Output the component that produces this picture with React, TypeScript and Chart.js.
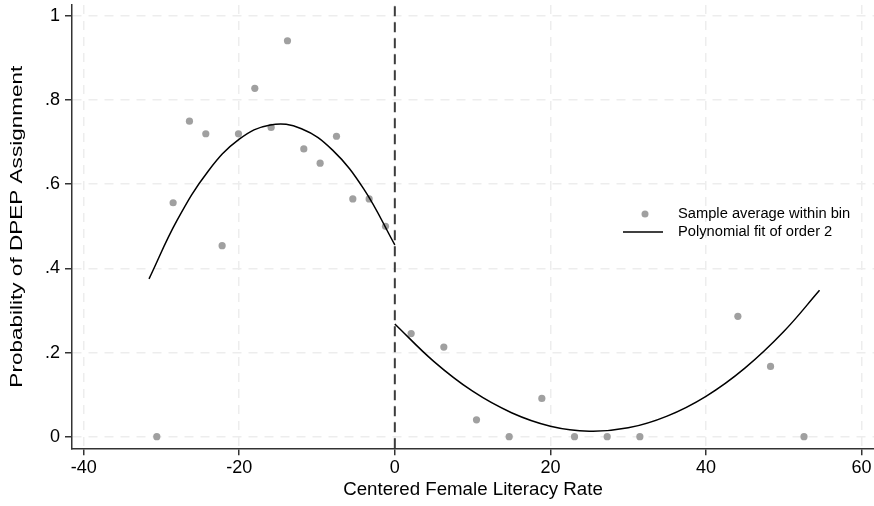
import React, { useEffect, useRef } from "react";
import { Chart, registerables } from "chart.js";

Chart.register(...registerables);

// Binned sample averages (left of cutoff)
const binLeftX = [-30.6, -28.5, -26.4, -24.3, -22.2, -20.1, -18.0, -15.9, -13.8, -11.7, -9.6, -7.5, -5.4, -3.3, -1.2];
const binLeftY = [0, 0.556, 0.75, 0.72, 0.454, 0.72, 0.828, 0.735, 0.941, 0.684, 0.65, 0.714, 0.565, 0.565, 0.5];
// Binned sample averages (right of cutoff)
const binRightX = [2.1, 6.3, 10.5, 14.7, 18.9, 23.1, 27.3, 31.5, 44.1, 48.3, 52.6];
const binRightY = [0.245, 0.213, 0.04, 0, 0.091, 0, 0, 0, 0.286, 0.167, 0];

// Polynomial fit
const fitLeftX = [-31.6, -28, -24, -20, -16, -12, -8, -4, 0];
const fitLeftY = [0.375, 0.514, 0.631, 0.707, 0.741, 0.732, 0.681, 0.589, 0.456];
const fitRightX = [0, 5, 10, 15, 20, 25, 30, 35, 40, 45, 50, 54.6];
const fitRightY = [0.268, 0.179, 0.108, 0.057, 0.025, 0.013, 0.021, 0.049, 0.096, 0.163, 0.25, 0.348];

const cutoff = 0;
const xTicks = [-40, -20, 0, 20, 40, 60];
const yTicks = [0, 0.2, 0.4, 0.6, 0.8, 1];
const yTickLabels = ["0", ".2", ".4", ".6", ".8", "1"];
const xMin = -41.5;
const xMax = 61.6;
const yMin = -0.0276;
const yMax = 1.026;

const legendLabels = ["Sample average within bin", "Polynomial fit of order 2"];
const xTitle = "Centered Female Literacy Rate";
const yTitle = "Probability of DPEP Assignment";

const FONT = "'Liberation Sans', Arial, Helvetica, sans-serif";
const POINT_COLOR = "#a0a0a0";

const zip = (xs: number[], ys: number[]) => xs.map((x, i) => ({ x, y: ys[i] }));

const overlayPlugin = {
  id: "overlayText",
  afterDraw(chart: any) {
    const { ctx, chartArea } = chart;
    // legend inside the plot
    const baseX = chartArea.right - 251;
    const y1 = 214;
    const y2 = 232;
    ctx.save();
    ctx.fillStyle = POINT_COLOR;
    ctx.beginPath();
    ctx.arc(baseX + 22, y1, 3.5, 0, Math.PI * 2);
    ctx.fill();
    ctx.strokeStyle = "#000";
    ctx.lineWidth = 1.5;
    ctx.beginPath();
    ctx.moveTo(baseX, y2);
    ctx.lineTo(baseX + 40, y2);
    ctx.stroke();
    ctx.fillStyle = "#000";
    ctx.font = `14.7px ${FONT}`;
    ctx.textBaseline = "middle";
    ctx.textAlign = "left";
    ctx.fillText(legendLabels[0], baseX + 55, y1);
    ctx.fillText(legendLabels[1], baseX + 55, y2);
    ctx.restore();

    // y-axis title (stretched along its length as in the reference)
    ctx.save();
    ctx.font = `16.5px ${FONT}`;
    ctx.fillStyle = "#000";
    ctx.textAlign = "center";
    ctx.textBaseline = "middle";
    const w = ctx.measureText(yTitle).width;
    const sx = 322 / w;
    ctx.translate(17, (chartArea.top + chartArea.bottom) / 2);
    ctx.rotate(-Math.PI / 2);
    ctx.scale(sx, 1);
    ctx.fillText(yTitle, 0, 0);
    ctx.restore();
  },
};

export default function App() {
  const ref = useRef<HTMLCanvasElement | null>(null);

  useEffect(() => {
    document.body.style.margin = "0";
    const canvas = ref.current;
    if (!canvas) return;
    const chart = new Chart(canvas, {
      type: "scatter",
      data: {
        datasets: [
          {
            type: "scatter",
            label: legendLabels[0],
            data: [...zip(binLeftX, binLeftY), ...zip(binRightX, binRightY)],
            backgroundColor: POINT_COLOR,
            borderWidth: 0,
            pointRadius: 3.6,
            order: 1,
          },
          {
            type: "line",
            label: legendLabels[1],
            data: zip(fitLeftX, fitLeftY),
            borderColor: "#000",
            borderWidth: 1.5,
            pointRadius: 0,
            tension: 0.4,
            fill: false,
            order: 0,
          },
          {
            type: "line",
            label: "fit right",
            data: zip(fitRightX, fitRightY),
            borderColor: "#000",
            borderWidth: 1.5,
            pointRadius: 0,
            tension: 0.4,
            fill: false,
            order: 0,
          },
          {
            type: "line",
            label: "cutoff",
            data: [
              { x: cutoff, y: yMin },
              { x: cutoff, y: yMax },
            ],
            borderColor: "#3c3c3c",
            borderWidth: 2,
            borderDash: [10, 6],
            pointRadius: 0,
            fill: false,
            order: 2,
          },
        ],
      },
      options: {
        animation: false,
        responsive: false,
        maintainAspectRatio: false,
        layout: { autoPadding: false, padding: { top: 5, right: 0, left: 0, bottom: 0 } },
        plugins: {
          legend: { display: false },
          tooltip: { enabled: false },
        },
        scales: {
          x: {
            type: "linear",
            min: xMin,
            max: xMax,
            afterBuildTicks: (scale: any) => {
              scale.ticks = xTicks.map((v) => ({ value: v }));
            },
            afterFit: (scale: any) => {
              scale.height = 57.7;
              scale.paddingLeft = 0;
              scale.paddingRight = 0;
            },
            ticks: {
              color: "#000",
              font: { family: FONT, size: 18 },
              padding: 2,
              maxRotation: 0,
              autoSkip: false,
              callback: (v: any) => String(v),
            },
            grid: {
              color: "#ededed",
              lineWidth: 1.5,
              tickColor: "#333",
              tickLength: 7,
              tickWidth: 1.5,
              tickBorderDash: [],
            },
            border: { display: true, color: "#333", width: 1.5, dash: [9, 7] },
            title: {
              display: true,
              text: xTitle,
              color: "#000",
              font: { family: FONT, size: 18.7 },
              padding: { top: 0, bottom: 5.2 },
            },
          },
          y: {
            type: "linear",
            min: yMin,
            max: yMax,
            afterBuildTicks: (scale: any) => {
              scale.ticks = yTicks.map((v) => ({ value: v }));
            },
            afterFit: (scale: any) => {
              scale.width = 72;
              scale.paddingTop = 0;
              scale.paddingBottom = 0;
            },
            ticks: {
              color: "#000",
              font: { family: FONT, size: 18 },
              padding: 5,
              autoSkip: false,
              callback: (v: any) => {
                const i = yTicks.findIndex((t) => Math.abs(t - Number(v)) < 1e-9);
                return i >= 0 ? yTickLabels[i] : "";
              },
            },
            grid: {
              color: "#ededed",
              lineWidth: 1.5,
              tickColor: "#333",
              tickLength: 7,
              tickWidth: 1.5,
              tickBorderDash: [],
            },
            border: { display: true, color: "#333", width: 1.5, dash: [9, 7] },
            title: { display: false },
          },
        },
      },
      plugins: [overlayPlugin],
    } as any);
    return () => chart.destroy();
  }, []);

  return (
    <div style={{ width: 874, height: 506, background: "#fff" }}>
      <canvas ref={ref} width={874} height={506} aria-label={`${yTitle} vs ${xTitle}`} />
    </div>
  );
}
